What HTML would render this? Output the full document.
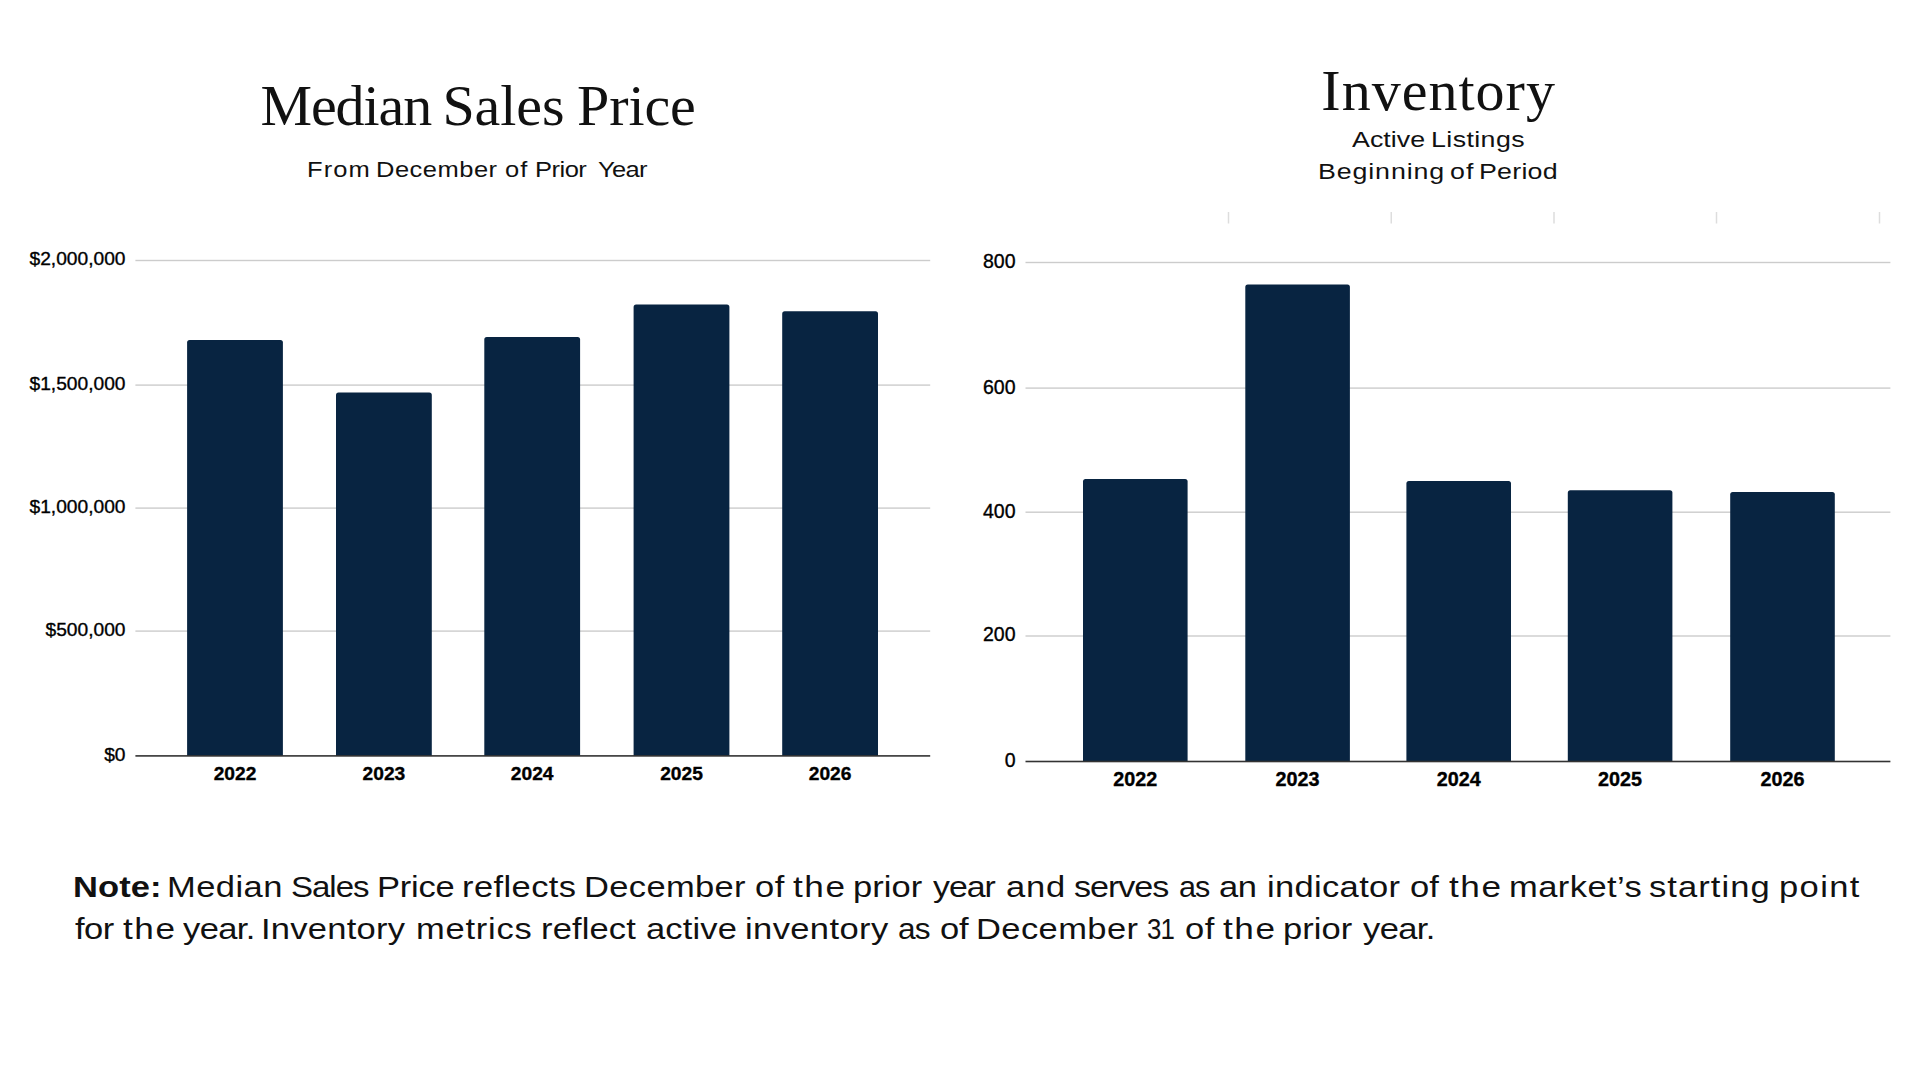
<!DOCTYPE html>
<html lang="en">
<head>
<meta charset="utf-8">
<title>Median Sales Price and Inventory</title>
<style>
html,body{margin:0;padding:0;background:#fff;}
body{width:1920px;height:1066px;position:relative;overflow:hidden;font-family:"Liberation Sans",Arial,sans-serif;color:#000;}
.t{position:absolute;white-space:nowrap;line-height:1;margin:0;transform-origin:0 0;}
.title{font-family:"Liberation Serif","Times New Roman",serif;font-weight:400;color:#0b0b0b;}
.ln{position:absolute;left:0;top:0;margin:0;width:1920px;height:0;white-space:nowrap;line-height:1;color:#111;}
.w{position:absolute;display:block;transform-origin:0 0;white-space:nowrap;line-height:1;}
#t1,#t2{font-size:58px;} #s1{font-size:21.8px;} #s2,#s3{font-size:22.9px;}
#n1,#n2{font-size:29.5px;}
svg{position:absolute;left:0;top:0;}
svg text{font-family:"Liberation Sans",Arial,sans-serif;fill:#000;stroke:#000;stroke-width:0.35px;}
</style>
</head>
<body>
<h1 class="ln title" id="t1"><span class="w" style="left:260.38px;top:77.02px;letter-spacing:-1.07px;transform:scaleX(1.0000)">Median</span> <span class="w" style="left:442.38px;top:77.02px;letter-spacing:-0.06px;transform:scaleX(1.0000)">Sales</span> <span class="w" style="left:577.12px;top:77.02px;letter-spacing:-0.12px;transform:scaleX(1.0000)">Price</span></h1>
<p class="ln" id="s1"><span class="w" style="left:307.35px;top:158.75px;letter-spacing:0.93px;transform:scaleX(1.1700)">From</span> <span class="w" style="left:376.35px;top:158.75px;letter-spacing:0.42px;transform:scaleX(1.1700)">December</span> <span class="w" style="left:505.28px;top:158.75px;letter-spacing:1.00px;transform:scaleX(1.1700)">of</span> <span class="w" style="left:534.55px;top:158.75px;letter-spacing:-0.43px;transform:scaleX(1.1700)">Prior</span> <span class="w" style="left:597.66px;top:158.75px;letter-spacing:-0.56px;transform:scaleX(1.1700)">Year</span></p>
<h1 class="ln title" id="t2"><span class="w" style="left:1321.30px;top:61.52px;letter-spacing:1.02px;transform:scaleX(1.0000)">Inventory</span></h1>
<p class="ln" id="s2"><span class="w" style="left:1351.80px;top:127.62px;letter-spacing:0.02px;transform:scaleX(1.1700)">Active</span> <span class="w" style="left:1430.81px;top:127.62px;letter-spacing:0.34px;transform:scaleX(1.1700)">Listings</span></p>
<p class="ln" id="s3"><span class="w" style="left:1317.51px;top:160.02px;letter-spacing:0.75px;transform:scaleX(1.1700)">Beginning</span> <span class="w" style="left:1449.88px;top:160.02px;letter-spacing:0.94px;transform:scaleX(1.1700)">of</span> <span class="w" style="left:1479.41px;top:160.02px;letter-spacing:0.20px;transform:scaleX(1.1700)">Period</span></p>
<svg width="1920" height="1066" viewBox="0 0 1920 1066">
<rect x="1227.75" y="212" width="1.5" height="11.5" fill="#dddddd"/>
<rect x="1390.5" y="212" width="1.5" height="11.5" fill="#dddddd"/>
<rect x="1553.25" y="212" width="1.5" height="11.5" fill="#dddddd"/>
<rect x="1715.75" y="212" width="1.5" height="11.5" fill="#dddddd"/>
<rect x="1878.75" y="212" width="1.5" height="11.5" fill="#dddddd"/>
<rect x="135.4" y="259.80" width="794.80" height="1.4" fill="#cccccc"/>
<rect x="135.4" y="384.40" width="794.80" height="1.4" fill="#cccccc"/>
<rect x="135.4" y="507.40" width="794.80" height="1.4" fill="#cccccc"/>
<rect x="135.4" y="630.40" width="794.80" height="1.4" fill="#cccccc"/>
<path d="M187.10 755.90V342.60q0-2.5 2.5-2.5H280.40q2.5 0 2.5 2.5V755.90Z" fill="#082441"/>
<path d="M336.00 755.90V395.10q0-2.5 2.5-2.5H429.30q2.5 0 2.5 2.5V755.90Z" fill="#082441"/>
<path d="M484.30 755.90V339.40q0-2.5 2.5-2.5H577.60q2.5 0 2.5 2.5V755.90Z" fill="#082441"/>
<path d="M633.60 755.90V307.00q0-2.5 2.5-2.5H726.90q2.5 0 2.5 2.5V755.90Z" fill="#082441"/>
<path d="M782.20 755.90V313.80q0-2.5 2.5-2.5H875.50q2.5 0 2.5 2.5V755.90Z" fill="#082441"/>
<rect x="135.4" y="755.10" width="794.80" height="1.6" fill="#333333"/>
<text x="125.5" y="265.40" text-anchor="end" font-size="19.2" class="yl">$2,000,000</text>
<text x="125.5" y="390.00" text-anchor="end" font-size="19.2" class="yl">$1,500,000</text>
<text x="125.5" y="513.00" text-anchor="end" font-size="19.2" class="yl">$1,000,000</text>
<text x="125.5" y="636.00" text-anchor="end" font-size="19.2" class="yl">$500,000</text>
<text x="125.5" y="760.80" text-anchor="end" font-size="19.2" class="yl">$0</text>
<text x="235.00" y="779.8" text-anchor="middle" font-size="19.2" font-weight="700" class="xl">2022</text>
<text x="383.90" y="779.8" text-anchor="middle" font-size="19.2" font-weight="700" class="xl">2023</text>
<text x="532.20" y="779.8" text-anchor="middle" font-size="19.2" font-weight="700" class="xl">2024</text>
<text x="681.50" y="779.8" text-anchor="middle" font-size="19.2" font-weight="700" class="xl">2025</text>
<text x="830.10" y="779.8" text-anchor="middle" font-size="19.2" font-weight="700" class="xl">2026</text>
<rect x="1025.5" y="261.80" width="864.90" height="1.4" fill="#cccccc"/>
<rect x="1025.5" y="387.40" width="864.90" height="1.4" fill="#cccccc"/>
<rect x="1025.5" y="511.50" width="864.90" height="1.4" fill="#cccccc"/>
<rect x="1025.5" y="635.30" width="864.90" height="1.4" fill="#cccccc"/>
<path d="M1083.00 761.50V481.50q0-2.5 2.5-2.5H1185.10q2.5 0 2.5 2.5V761.50Z" fill="#082441"/>
<path d="M1245.30 761.50V287.00q0-2.5 2.5-2.5H1347.40q2.5 0 2.5 2.5V761.50Z" fill="#082441"/>
<path d="M1406.40 761.50V483.50q0-2.5 2.5-2.5H1508.50q2.5 0 2.5 2.5V761.50Z" fill="#082441"/>
<path d="M1567.80 761.50V492.75q0-2.5 2.5-2.5H1669.90q2.5 0 2.5 2.5V761.50Z" fill="#082441"/>
<path d="M1730.20 761.50V494.50q0-2.5 2.5-2.5H1832.30q2.5 0 2.5 2.5V761.50Z" fill="#082441"/>
<rect x="1025.5" y="760.70" width="864.90" height="1.6" fill="#333333"/>
<text x="1015.5" y="267.90" text-anchor="end" font-size="19.5" class="yl">800</text>
<text x="1015.5" y="393.50" text-anchor="end" font-size="19.5" class="yl">600</text>
<text x="1015.5" y="517.60" text-anchor="end" font-size="19.5" class="yl">400</text>
<text x="1015.5" y="641.40" text-anchor="end" font-size="19.5" class="yl">200</text>
<text x="1015.5" y="766.90" text-anchor="end" font-size="19.5" class="yl">0</text>
<text x="1135.30" y="786.3" text-anchor="middle" font-size="19.8" font-weight="700" class="xl">2022</text>
<text x="1297.60" y="786.3" text-anchor="middle" font-size="19.8" font-weight="700" class="xl">2023</text>
<text x="1458.70" y="786.3" text-anchor="middle" font-size="19.8" font-weight="700" class="xl">2024</text>
<text x="1620.10" y="786.3" text-anchor="middle" font-size="19.8" font-weight="700" class="xl">2025</text>
<text x="1782.50" y="786.3" text-anchor="middle" font-size="19.8" font-weight="700" class="xl">2026</text>
</svg>
<p class="ln" id="n1"><b class="w" style="left:73.21px;top:871.93px;letter-spacing:0.06px;transform:scaleX(1.1700)">Note:</b> <span class="w" style="left:166.82px;top:871.93px;letter-spacing:0.37px;transform:scaleX(1.1700)">Median</span> <span class="w" style="left:290.90px;top:871.93px;letter-spacing:-0.90px;transform:scaleX(1.1193)">Sales</span> <span class="w" style="left:377.22px;top:871.93px;letter-spacing:-0.21px;transform:scaleX(1.1700)">Price</span> <span class="w" style="left:462.11px;top:871.93px;letter-spacing:0.34px;transform:scaleX(1.1700)">reflects</span> <span class="w" style="left:583.92px;top:871.93px;letter-spacing:0.29px;transform:scaleX(1.1700)">December</span> <span class="w" style="left:754.68px;top:871.93px;letter-spacing:0.43px;transform:scaleX(1.1700)">of</span> <span class="w" style="left:792.85px;top:871.93px;letter-spacing:1.30px;transform:scaleX(1.1912)">the</span> <span class="w" style="left:852.81px;top:871.93px;letter-spacing:0.06px;transform:scaleX(1.1700)">prior</span> <span class="w" style="left:932.70px;top:871.93px;letter-spacing:-0.90px;transform:scaleX(1.1473)">year</span> <span class="w" style="left:1006.24px;top:871.93px;letter-spacing:0.64px;transform:scaleX(1.1700)">and</span> <span class="w" style="left:1074.13px;top:871.93px;letter-spacing:-0.90px;transform:scaleX(1.1572)">serves</span> <span class="w" style="left:1178.70px;top:871.93px;letter-spacing:-0.90px;transform:scaleX(1.0366)">as</span> <span class="w" style="left:1219.24px;top:871.93px;letter-spacing:-0.31px;transform:scaleX(1.1700)">an</span> <span class="w" style="left:1266.81px;top:871.93px;letter-spacing:0.28px;transform:scaleX(1.1700)">indicator</span> <span class="w" style="left:1410.38px;top:871.93px;letter-spacing:0.09px;transform:scaleX(1.1700)">of</span> <span class="w" style="left:1448.55px;top:871.93px;letter-spacing:1.30px;transform:scaleX(1.1912)">the</span> <span class="w" style="left:1509.41px;top:871.93px;letter-spacing:0.37px;transform:scaleX(1.1700)">market’s</span> <span class="w" style="left:1649.12px;top:871.93px;letter-spacing:0.91px;transform:scaleX(1.1700)">starting</span> <span class="w" style="left:1778.61px;top:871.93px;letter-spacing:1.20px;transform:scaleX(1.1700)">point</span></p>
<p class="ln" id="n2"><span class="w" style="left:74.56px;top:914.03px;letter-spacing:-0.44px;transform:scaleX(1.1700)">for</span> <span class="w" style="left:122.85px;top:914.03px;letter-spacing:1.30px;transform:scaleX(1.1912)">the</span> <span class="w" style="left:183.30px;top:914.03px;letter-spacing:-0.51px;transform:scaleX(1.1700)">year.</span> <span class="w" style="left:260.93px;top:914.03px;letter-spacing:0.22px;transform:scaleX(1.1700)">Inventory</span> <span class="w" style="left:416.11px;top:914.03px;letter-spacing:0.66px;transform:scaleX(1.1700)">metrics</span> <span class="w" style="left:541.11px;top:914.03px;letter-spacing:0.12px;transform:scaleX(1.1700)">reflect</span> <span class="w" style="left:645.54px;top:914.03px;letter-spacing:0.14px;transform:scaleX(1.1700)">active</span> <span class="w" style="left:745.11px;top:914.03px;letter-spacing:0.33px;transform:scaleX(1.1700)">inventory</span> <span class="w" style="left:897.96px;top:914.03px;letter-spacing:-0.90px;transform:scaleX(1.0724)">as</span> <span class="w" style="left:939.68px;top:914.03px;letter-spacing:-0.17px;transform:scaleX(1.1700)">of</span> <span class="w" style="left:976.22px;top:914.03px;letter-spacing:0.34px;transform:scaleX(1.1700)">December</span> <span class="w" style="left:1147.01px;top:914.03px;letter-spacing:-0.90px;transform:scaleX(0.8756)">31</span> <span class="w" style="left:1184.68px;top:914.03px;letter-spacing:0.43px;transform:scaleX(1.1700)">of</span> <span class="w" style="left:1222.85px;top:914.03px;letter-spacing:1.30px;transform:scaleX(1.1912)">the</span> <span class="w" style="left:1282.81px;top:914.03px;letter-spacing:0.06px;transform:scaleX(1.1700)">prior</span> <span class="w" style="left:1363.30px;top:914.03px;letter-spacing:-0.51px;transform:scaleX(1.1700)">year.</span></p>
</body>
</html>
